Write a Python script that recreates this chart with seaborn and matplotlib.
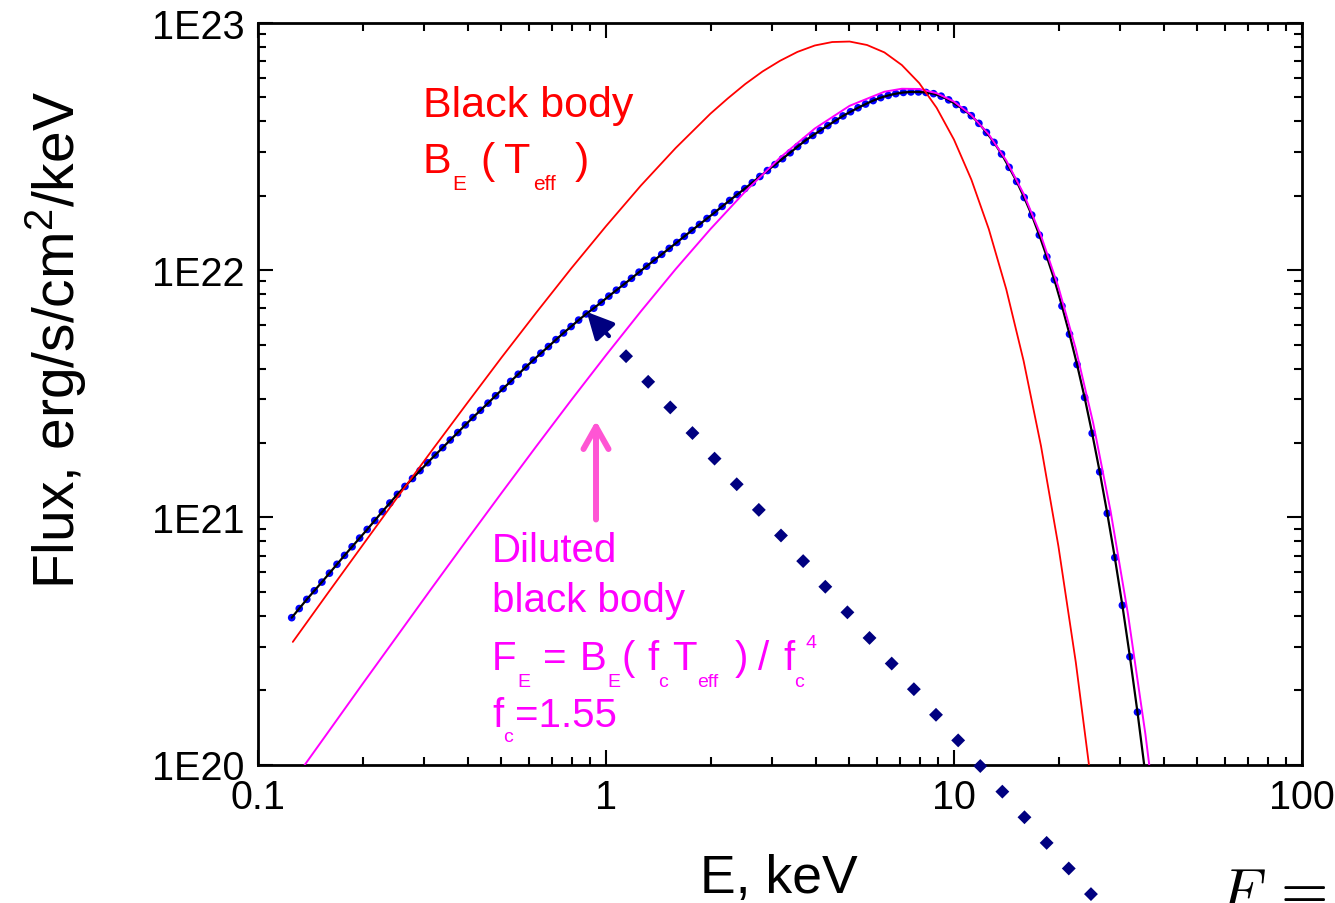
import numpy as np
import matplotlib
matplotlib.use("Agg")
import matplotlib.pyplot as plt
from matplotlib.ticker import FixedLocator, FixedFormatter, LogLocator, NullFormatter
import seaborn as sns

W, H = 1335, 904

# ---------------------------------------------------------------- spectra
# Black body B_E(T_eff): energies (keV) and log10 flux (erg/s/cm2/keV)
bb_energy = [0.1259, 0.1585, 0.1995, 0.2512, 0.3162, 0.3981, 0.5012, 0.6310,
             0.7943, 1.000, 1.259, 1.585, 1.995, 2.239, 2.512, 2.818, 3.162,
             3.548, 3.981, 4.467, 5.012, 5.623, 6.310, 7.079, 7.943, 8.913,
             10.00, 11.22, 12.59, 14.13, 15.85, 17.78, 19.95, 22.39, 25.12]
bb_logflux = [20.496, 20.692, 20.886, 21.080, 21.271, 21.460, 21.647, 21.829,
              22.007, 22.178, 22.342, 22.494, 22.633, 22.695, 22.753, 22.804,
              22.847, 22.883, 22.909, 22.923, 22.925, 22.911, 22.881, 22.830,
              22.757, 22.657, 22.528, 22.366, 22.166, 21.923, 21.633, 21.289,
              20.884, 20.413, 19.865]

# Diluted black body B_E(f_c T_eff) / f_c^4 with f_c = 1.55
dil_energy = [0.1259, 0.1585, 0.1995, 0.2512, 0.3162, 0.3981, 0.5012, 0.6310,
              0.7943, 1.000, 1.259, 1.585, 1.995, 2.512, 3.162, 3.981, 5.012,
              6.310, 7.079, 7.943, 8.913, 10.00, 11.22, 12.59, 14.13, 15.85,
              17.78, 19.95, 22.39, 25.12, 28.18, 31.62, 35.48, 39.81]
dil_logflux = [19.931, 20.128, 20.325, 20.520, 20.715, 20.908, 21.099, 21.288,
               21.474, 21.656, 21.833, 22.004, 22.166, 22.318, 22.455, 22.573,
               22.665, 22.722, 22.734, 22.733, 22.716, 22.682, 22.627, 22.549,
               22.444, 22.309, 22.140, 21.932, 21.681, 21.381, 21.025, 20.608,
               20.123, 19.559]

# Model atmosphere spectrum on its log-uniform energy grid (keV)
model_energy = np.logspace(-0.9032, 1.5489, 114)
model_logflux = [
    20.594, 20.631, 20.668, 20.703, 20.738, 20.774, 20.810, 20.846, 20.881, 20.916,
    20.951, 20.987, 21.023, 21.058, 21.093, 21.125, 21.157, 21.189, 21.221, 21.252,
    21.282, 21.313, 21.343, 21.374, 21.404, 21.433, 21.462, 21.492, 21.521, 21.550,
    21.579, 21.608, 21.636, 21.664, 21.691, 21.719, 21.746, 21.772, 21.798, 21.823,
    21.846, 21.870, 21.895, 21.919, 21.943, 21.967, 21.992, 22.016, 22.040, 22.064,
    22.088, 22.112, 22.137, 22.161, 22.185, 22.209, 22.233, 22.258, 22.282, 22.306,
    22.330, 22.354, 22.379, 22.403, 22.427, 22.451, 22.475, 22.500, 22.524, 22.545,
    22.565, 22.585, 22.605, 22.624, 22.641, 22.657, 22.672, 22.686, 22.698, 22.707,
    22.714, 22.719, 22.721, 22.721, 22.719, 22.714, 22.704, 22.689, 22.670, 22.649,
    22.625, 22.594, 22.557, 22.517, 22.470, 22.416, 22.359, 22.294, 22.223, 22.142,
    22.054, 21.961, 21.855, 21.741, 21.618, 21.485, 21.340, 21.184, 21.016, 20.837,
    20.644, 20.436, 20.212, 19.972]

# Diamond leader running away from the arrow head
pointer_energy = [1.142, 1.322, 1.530, 1.772, 2.051, 2.375, 2.749, 3.183, 3.686,
                  4.268, 4.940, 5.718, 6.622, 7.668, 8.877, 10.28, 11.90, 13.77,
                  15.94, 18.46, 21.37, 24.75]
pointer_flux = [4.487e21, 3.535e21, 2.784e21, 2.193e21, 1.728e21, 1.361e21,
                1.072e21, 8.444e20, 6.651e20, 5.239e20, 4.127e20, 3.251e20,
                2.561e20, 2.017e20, 1.589e20, 1.252e20, 9.858e19, 7.766e19,
                6.117e19, 4.818e19, 3.796e19, 2.990e19]

# Arrow end points (energy keV, flux)
model_arrow_tip = (0.880, 6.78e21)
model_arrow_tail = (1.02, 5.41e21)
dil_arrow_tip = (0.936, 2.46e21)
dil_arrow_tail = (0.936, 9.8e20)

x_ticks = [0.1, 1, 10, 100]
x_ticklabels = ["0.1", "1", "10", "100"]
y_ticks = [1e20, 1e21, 1e22, 1e23]
y_ticklabels = ["1E20", "1E21", "1E22", "1E23"]

RED = "#ff0000"
MAGENTA = "#ff00ff"
PINK = "#ff55d4"
NAVY = "#000080"
BLUE = "#0000ff"

sns.set_theme(style="ticks")
plt.rcParams["font.family"] = ["Liberation Sans", "DejaVu Sans"]
plt.rcParams["mathtext.fontset"] = "cm"

fig = plt.figure(figsize=(W / 100, H / 100), dpi=100)
fig.patch.set_facecolor("white")
ax = fig.add_axes([258 / W, 1 - 765.5 / H, (1302 - 258) / W, (765.5 - 24) / H])
ax.set_facecolor("white")
ax.set_xscale("log")
ax.set_yscale("log")

# model points, then the curves
sns.scatterplot(x=model_energy, y=10 ** np.array(model_logflux), ax=ax, s=30,
                color=BLUE, edgecolor="none", linewidth=0, zorder=3, legend=False)
sns.lineplot(x=model_energy, y=10 ** np.array(model_logflux), ax=ax, color="black",
             lw=1.6, sort=False, estimator=None, zorder=4)
sns.lineplot(x=dil_energy, y=10 ** np.array(dil_logflux), ax=ax, color=MAGENTA,
             lw=1.4, sort=False, estimator=None, zorder=5)
sns.lineplot(x=bb_energy, y=10 ** np.array(bb_logflux), ax=ax, color=RED,
             lw=1.3, sort=False, estimator=None, zorder=6)

# diamond leader (extends past the frame)
sns.scatterplot(x=pointer_energy, y=pointer_flux, ax=ax, marker="D", s=50,
                color=NAVY, edgecolor="none", linewidth=0, clip_on=False,
                zorder=7, legend=False)

ax.annotate("", xy=model_arrow_tip, xytext=model_arrow_tail,
            arrowprops=dict(arrowstyle="-|>,head_length=0.8,head_width=0.4",
                            color=NAVY, lw=3, mutation_scale=20,
                            shrinkA=0, shrinkB=0), zorder=8)
ax.annotate("", xy=dil_arrow_tip, xytext=dil_arrow_tail,
            arrowprops=dict(arrowstyle="->,head_length=0.8,head_width=0.45",
                            color=PINK, lw=4.3, mutation_scale=20,
                            shrinkA=0, shrinkB=0), zorder=8)

# axes, ticks
ax.set_xlim(0.1, 100)
ax.set_ylim(1e20, 1e23)
ax.xaxis.set_major_locator(FixedLocator(x_ticks))
ax.xaxis.set_major_formatter(FixedFormatter(x_ticklabels))
ax.yaxis.set_major_locator(FixedLocator(y_ticks))
ax.yaxis.set_major_formatter(FixedFormatter(y_ticklabels))
ax.xaxis.set_minor_locator(LogLocator(base=10, subs=np.arange(2, 10)))
ax.yaxis.set_minor_locator(LogLocator(base=10, subs=np.arange(2, 10)))
ax.xaxis.set_minor_formatter(NullFormatter())
ax.yaxis.set_minor_formatter(NullFormatter())
ax.tick_params(which="both", direction="in", top=True, right=True,
               width=1.5, color="black")
ax.tick_params(which="major", length=11, pad=9.5, labelsize=28.5,
               labelcolor="black")
ax.tick_params(which="minor", length=5.5)
for sp in ax.spines.values():
    sp.set_linewidth(2)
    sp.set_color("black")
ax.set_xlabel("")
ax.set_ylabel("")
ax.grid(False)


def put(x, y, s, size, color="black", **kw):
    fig.text(x / W, 1 - y / H, s, fontsize=size, color=color,
             ha=kw.pop("ha", "left"), va=kw.pop("va", "baseline"), **kw)


# axis titles
put(779, 893, "E, keV", 38.5, ha="center")
put(56, 340, r"Flux, erg/s/cm$\mathregular{^2}$/keV", 41,
    ha="center", va="center", rotation=90)

# black body caption
put(423, 117, "Black body", 31, RED)
put(423, 173, "B", 31, RED)
put(452, 190.5, "E", 15, RED)
put(480, 173, "(", 31, RED)
put(504, 173, "T", 31, RED)
put(533, 190.5, "eff", 15, RED)
put(575, 173, ")", 31, RED)

# diluted black body caption
put(492, 562, "Diluted", 29, MAGENTA)
put(492, 612, "black body", 29, MAGENTA)
put(492, 670, "F", 29, MAGENTA)
put(517, 687, "E", 14, MAGENTA)
put(543, 670, "=", 29, MAGENTA)
put(580, 670, "B", 29, MAGENTA)
put(607, 687, "E", 14, MAGENTA)
put(622, 670, "(", 29, MAGENTA)
put(647, 670, "f", 29, MAGENTA)
put(658, 687, "c", 14, MAGENTA)
put(672, 670, "T", 29, MAGENTA)
put(697, 687, "eff", 14, MAGENTA)
put(735, 670, ")", 29, MAGENTA)
put(758, 670, "/", 29, MAGENTA)
put(783, 670, "f", 29, MAGENTA)
put(794, 687, "c", 14, MAGENTA)
put(805, 648, "4", 14, MAGENTA)
put(492, 727, "f", 29, MAGENTA)
put(503, 742, "c", 14, MAGENTA)
put(515, 727, "=1.55", 29, MAGENTA)

# equation running off the lower edge
put(1218, 911, r"$F$", 44)
put(1270, 907, r"$=$", 44)

fig.savefig("out.png", dpi=100, facecolor="white")
